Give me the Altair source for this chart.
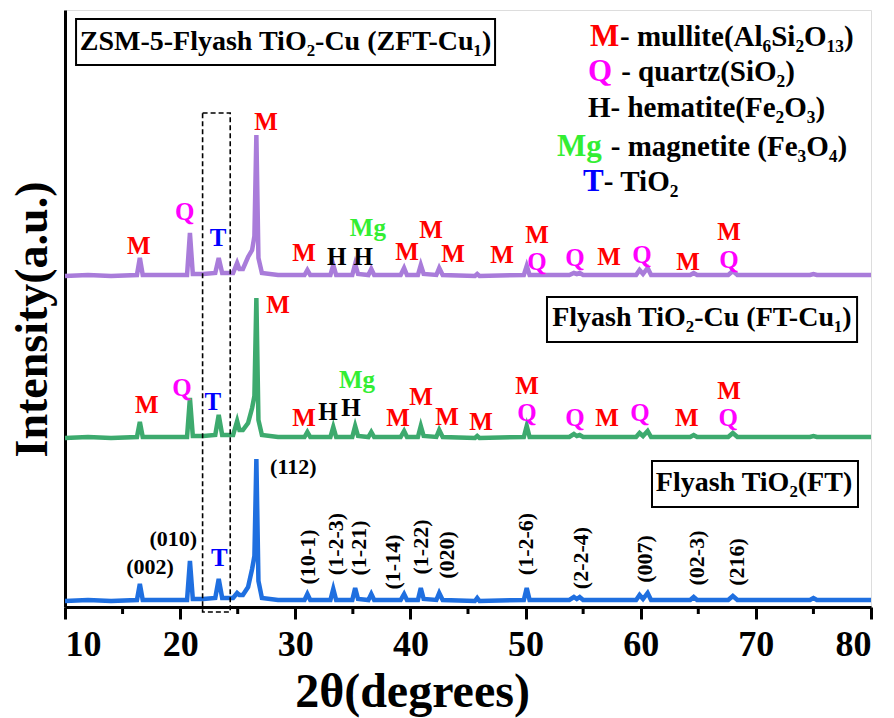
import altair as alt
import pandas as pd

# ---------------- data ----------------
two_theta = [10.0, 12.0, 14.0, 16.25, 16.5, 16.75, 18.5, 20.6, 20.85, 21.1,
             22.0, 23.05, 23.35, 23.65, 24.6, 24.95, 25.15, 25.45, 25.9, 26.25,
             26.45, 26.62, 26.8, 27.1, 28.5, 30.8, 31.05, 31.3, 33.05, 33.3,
             33.55, 34.95, 35.2, 35.45, 36.35, 36.6, 36.85, 39.15, 39.45, 39.7,
             40.65, 40.9, 41.15, 42.25, 42.5, 42.8, 45.6, 45.8, 46.0, 49.85,
             50.1, 50.35, 53.8, 54.2, 54.45, 54.7, 55.0, 59.6, 59.9, 60.2,
             60.6, 60.9, 64.3, 64.6, 64.9, 67.6, 68.0, 68.4, 74.7, 75.0,
             75.3, 80.0]

ft = [0, 1, 0, 1, 17, 1, 1, 1, 40, 2,
      2, 3, 22, 3, 3, 8, 6, 6, 14, 32,
      45, 142, 20, 3, 1, 1, 7, 1, 1, 12,
      1, 1, 13, 2, 1, 7, 1, 1, 7, 1,
      1, 13, 2, 1, 8, 1, 0, 3, 0, 1,
      13, 1, 1, 4, 2, 4, 1, 1, 6, 2,
      8, 1, 1, 4, 1, 1, 5, 1, 1, 3,
      1, 1]

ft_cu = [0, 1, 0, 1, 16, 1, 1, 1, 40, 2,
         2, 3, 23, 3, 3, 17, 8, 8, 15, 30,
         42, 140, 18, 3, 1, 1, 6, 1, 1, 11,
         1, 1, 12, 2, 1, 6, 1, 1, 7, 1,
         1, 12, 2, 1, 8, 1, 0, 2, 0, 1,
         12, 1, 1, 4, 2, 3, 1, 1, 5, 2,
         7, 1, 1, 3, 1, 1, 5, 1, 1, 2,
         1, 1]

zft_cu = [0, 1, 0, 1, 18, 1, 1, 1, 43, 2,
          2, 3, 18, 3, 3, 13, 7, 7, 19, 26,
          40, 141, 18, 3, 1, 1, 6, 1, 1, 11,
          1, 1, 12, 2, 1, 7, 1, 1, 8, 1,
          1, 11, 2, 1, 8, 1, 0, 2, 0, 1,
          10, 1, 1, 3, 2, 3, 1, 1, 6, 2,
          8, 1, 1, 3, 1, 1, 5, 1, 1, 2,
          1, 1]

series_names = ["FT", "FT-Cu1", "ZFT-Cu1"]
series_offsets = [6, 169, 331]
series_colors = ["#1F6FE0", "#3DAA6E", "#A97CDA"]

# phase markers (2theta, height, label)
phase_x = [16.4, 20.4, 23.3, 27.45, 30.76, 33.6, 35.9, 36.3, 39.7, 41.8, 43.7,
           47.95, 51.0, 51.0, 54.3, 57.25, 60.1, 64.1, 67.67, 67.67,
           17.1, 20.16, 22.85, 28.5, 30.76, 32.84, 34.84, 35.36, 38.92, 40.92,
           43.18, 46.13, 50.12, 50.12, 54.3, 57.07, 59.94, 64.0, 67.67, 67.6,
           23.4]
phase_y = [361, 395, 369, 485, 354, 350, 350, 379, 355, 377, 353,
           352, 372, 345, 349, 350, 352, 345, 375, 347,
           202, 219, 205, 302, 189, 195, 199, 227, 189, 210,
           190, 185, 221, 194, 189, 189, 194, 189, 216, 189,
           49]
phase_label = ["M", "Q", "T", "M", "M", "H", "H", "Mg", "M", "M", "M",
               "M", "M", "Q", "Q", "M", "Q", "M", "M", "Q",
               "M", "Q", "T", "M", "M", "H", "H", "Mg", "M", "M",
               "M", "M", "M", "Q", "Q", "M", "Q", "M", "M", "Q",
               "T"]
phase_colors = {"M": "#FF0000", "Q": "#FF00FF", "H": "#000000",
                "Mg": "#33EE33", "T": "#0000FF"}

# Miller indices on FT pattern
hkl_flat_x = [17.38, 19.4, 29.83]
hkl_flat_y = [40, 68, 140]
hkl_flat_label = ["(002)", "(010)", "(112)"]
hkl_rot_x = [31.1, 33.55, 35.57, 38.5, 40.92, 43.15, 50.04, 54.8, 60.37, 64.86, 68.4]
hkl_rot_y = [50, 63, 59, 45, 60, 52, 63, 49, 48, 49, 45]
hkl_rot_label = ["(10-1)", "(1-2-3)", "(1-21)", "(1-14)", "(1-22)", "(020)",
                 "(1-2-6)", "(2-2-4)", "(007)", "(02-3)", "(216)"]

# sample name boxes
box_x1 = [10.96, 51.86, 60.98]
box_x2 = [47.35, 78.79, 78.87]
box_y1 = [542, 265, 100]
box_y2 = [588, 310, 146]
box_text_x = [29.15, 65.32, 69.84]
box_text_y = [565, 289, 124]
box_text = ["ZSM-5-Flyash TiO₂-Cu (ZFT-Cu₁)", "Flyash TiO₂-Cu (FT-Cu₁)", "Flyash TiO₂(FT)"]

# phase key (top right)
key_sym = ["M", "Q", "Mg", "T"]
key_sym_x = [55.6, 55.42, 52.73, 54.99]
key_sym_y = [570, 535, 460, 425]
key_txt = ["- mullite(Al₆Si₂O₁₃)", "- quartz(SiO₂)", "H- hematite(Fe₂O₃)",
           "- magnetite (Fe₃O₄)", "- TiO₂"]
key_txt_x = [58.2, 58.3, 55.42, 57.4, 56.8]
key_txt_y = [570, 535, 499, 460, 425]

dash_box = {"x1": 21.95, "x2": 24.35, "y1": -5, "y2": 494}
minor_ticks = [15, 25, 35, 45, 55, 65, 75]

# ---------------- tables ----------------
rows = []
for name, off, vals in zip(series_names, series_offsets, [ft, ft_cu, zft_cu]):
    for t, v in zip(two_theta, vals):
        rows.append({"theta": t, "intensity": v + off, "series": name})
lines_df = pd.DataFrame(rows)

phase_df = pd.DataFrame({"theta": phase_x, "y": phase_y, "label": phase_label,
                         "color": [phase_colors[p] for p in phase_label]})
hkl_flat_df = pd.DataFrame({"theta": hkl_flat_x, "y": hkl_flat_y, "label": hkl_flat_label})
hkl_rot_df = pd.DataFrame({"theta": hkl_rot_x, "y": hkl_rot_y, "label": hkl_rot_label})
box_df = pd.DataFrame({"x1": box_x1, "x2": box_x2, "y1": box_y1, "y2": box_y2})
box_text_df = pd.DataFrame({"theta": box_text_x, "y": box_text_y, "label": box_text})
key_sym_df = pd.DataFrame({"theta": key_sym_x, "y": key_sym_y, "label": key_sym,
                           "color": [phase_colors[s] for s in key_sym]})
key_txt_df = pd.DataFrame({"theta": key_txt_x, "y": key_txt_y, "label": key_txt})
dash_df = pd.DataFrame([dash_box])
minor_df = pd.DataFrame({"theta": minor_ticks, "y0": [0] * len(minor_ticks),
                         "y1": [-7] * len(minor_ticks)})

FONT = "Liberation Serif"
W, H = 806, 597

xscale = alt.Scale(domain=[10, 80], nice=False, zero=False)
yscale = alt.Scale(domain=[0, 597], nice=False, zero=False)

x_axis = alt.Axis(values=list(range(10, 81, 10)), format="d", grid=False,
                  labelFont=FONT, labelFontWeight="bold", labelFontSize=36,
                  labelColor="black", labelPadding=8,
                  tickSize=12, tickWidth=3, tickColor="black",
                  domainWidth=3, domainColor="black",
                  title="2θ(degrees)", titleFont=FONT, titleFontWeight="bold",
                  titleFontSize=48, titleColor="black",
                  titleX=347, titleY=85, titleAlign="center", titleBaseline="middle")
y_axis = alt.Axis(labels=False, ticks=False, grid=False, domainWidth=3,
                  domainColor="black",
                  title="Intensity(a.u.)", titleFont=FONT, titleFontWeight="bold",
                  titleFontSize=46, titleColor="black", titleAngle=270,
                  titleX=-33, titleY=309, titleAlign="center", titleBaseline="middle")

lines = alt.Chart(lines_df).mark_line(strokeWidth=4.5).encode(
    x=alt.X("theta:Q", scale=xscale, axis=x_axis),
    y=alt.Y("intensity:Q", scale=yscale, axis=y_axis),
    color=alt.Color("series:N", scale=alt.Scale(domain=series_names, range=series_colors),
                    legend=None),
    detail="series:N",
)

minor = alt.Chart(minor_df).mark_rule(strokeWidth=3, color="black").encode(
    x="theta:Q", y="y0:Q", y2="y1:Q")

dashed = alt.Chart(dash_df).mark_rect(filled=False, stroke="black", strokeWidth=1.6,
                                      strokeDash=[5, 3]).encode(
    x="x1:Q", x2="x2:Q", y="y1:Q", y2="y2:Q")

boxes = alt.Chart(box_df).mark_rect(fill="white", stroke="black", strokeWidth=2).encode(
    x="x1:Q", x2="x2:Q", y="y1:Q", y2="y2:Q")

box_texts = alt.Chart(box_text_df).mark_text(font=FONT, fontWeight="bold", fontSize=28,
                                             color="black", align="center",
                                             baseline="middle").encode(
    x="theta:Q", y="y:Q", text="label:N")

phases = alt.Chart(phase_df).mark_text(font=FONT, fontWeight="bold", fontSize=25,
                                       align="center", baseline="middle").encode(
    x="theta:Q", y="y:Q", text="label:N", color=alt.Color("color:N", scale=None))

hkl_flat = alt.Chart(hkl_flat_df).mark_text(font=FONT, fontWeight="bold", fontSize=22,
                                            color="black", align="center",
                                            baseline="middle").encode(
    x="theta:Q", y="y:Q", text="label:N")

hkl_rot = alt.Chart(hkl_rot_df).mark_text(font=FONT, fontWeight="bold", fontSize=22,
                                          color="black", align="center",
                                          baseline="middle", angle=270).encode(
    x="theta:Q", y="y:Q", text="label:N")

key_syms = alt.Chart(key_sym_df).mark_text(font=FONT, fontWeight="bold", fontSize=31,
                                           align="left", baseline="middle").encode(
    x="theta:Q", y="y:Q", text="label:N", color=alt.Color("color:N", scale=None))

key_txts = alt.Chart(key_txt_df).mark_text(font=FONT, fontWeight="bold", fontSize=29,
                                           color="black", align="left",
                                           baseline="middle").encode(
    x="theta:Q", y="y:Q", text="label:N")

chart = alt.layer(lines, minor, dashed, boxes, box_texts, phases, hkl_flat, hkl_rot,
                  key_syms, key_txts).properties(
    width=W, height=H,
    autosize=alt.AutoSizeParams(type="none"),
    padding={"left": 65, "top": 10, "right": 23, "bottom": 111},
).configure_view(stroke="black", strokeWidth=3).configure(background="white")

chart.save("out.html", embed_options={"renderer": "svg", "actions": False})
